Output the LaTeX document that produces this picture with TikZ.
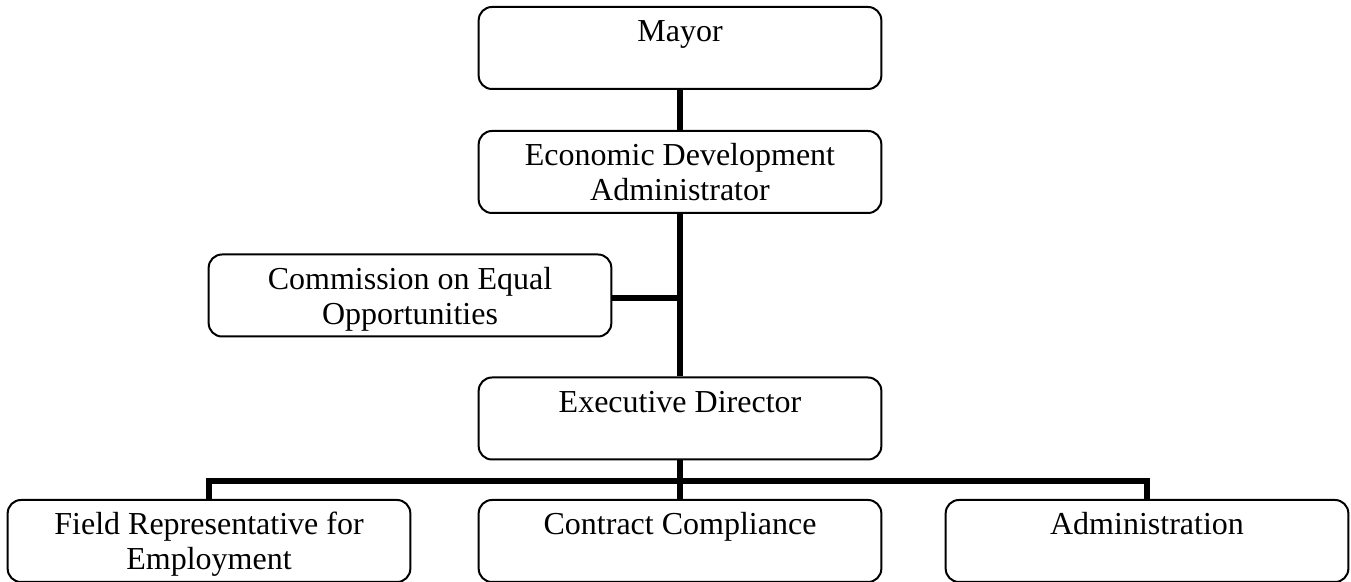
\documentclass[tikz,border=0pt,12pt]{standalone}
\usepackage{fontspec}
\setmainfont{Liberation Serif}
\usetikzlibrary{positioning}

\tikzset{
  unitbox/.style={draw, rectangle, rounded corners=5pt, line width=0.75pt,
    minimum width=151pt, minimum height=30.75pt, inner sep=0pt},
  unitname/.style={anchor=north, inner sep=0pt, align=center,
    font=\fontsize{12}{13.1}\selectfont, yshift=-4pt},
  link/.style={line width=2.2pt}
}

\begin{document}
\begin{tikzpicture}[x=0.375pt, y=-0.375pt]
  \useasboundingbox (0,0) rectangle (1351,582);

  % Top of the chain
  \node[unitbox] (mayor) at (680,48) {};
  \node[unitname] (mayorname) at (mayor.north) {\strut Mayor};
  \node[unitbox] (econ) at (680,172) {};
  \node[unitname] (econname) at (econ.north) {\strut Economic Development\\Administrator};

  % Side commission
  \node[unitbox] (comm) at (410,295.5) {};
  \node[unitname] (commname) at (comm.north) {\strut Commission on Equal\\Opportunities};

  \node[unitbox] (exec) at (680,418.5) {};
  \node[unitname] (execname) at (exec.north) {\strut Executive Director};

  % Divisions
  \node[unitbox] (field) at (209,541) {};
  \node[unitname] (fieldname) at (field.north) {\strut Field Representative for\\Employment};
  \node[unitbox] (contract) at (680,541) {};
  \node[unitname] (contractname) at (contract.north) {\strut Contract Compliance};
  \node[unitbox] (admin) at (1147,541) {};
  \node[unitname] (adminname) at (admin.north) {\strut Administration};

  \coordinate (commtap) at ([yshift=-0.8pt]comm.east);
  \coordinate (bus) at (680,481);

  \draw[link] (mayor) -- (econ);
  \draw[link] (econ) -- (exec);
  \draw[link] (commtap) -- (commtap -| econ.south);
  \draw[link] (exec) -- (contract);
  \draw[link] (field.north) |- (bus) -| (admin.north);
\end{tikzpicture}
\end{document}
